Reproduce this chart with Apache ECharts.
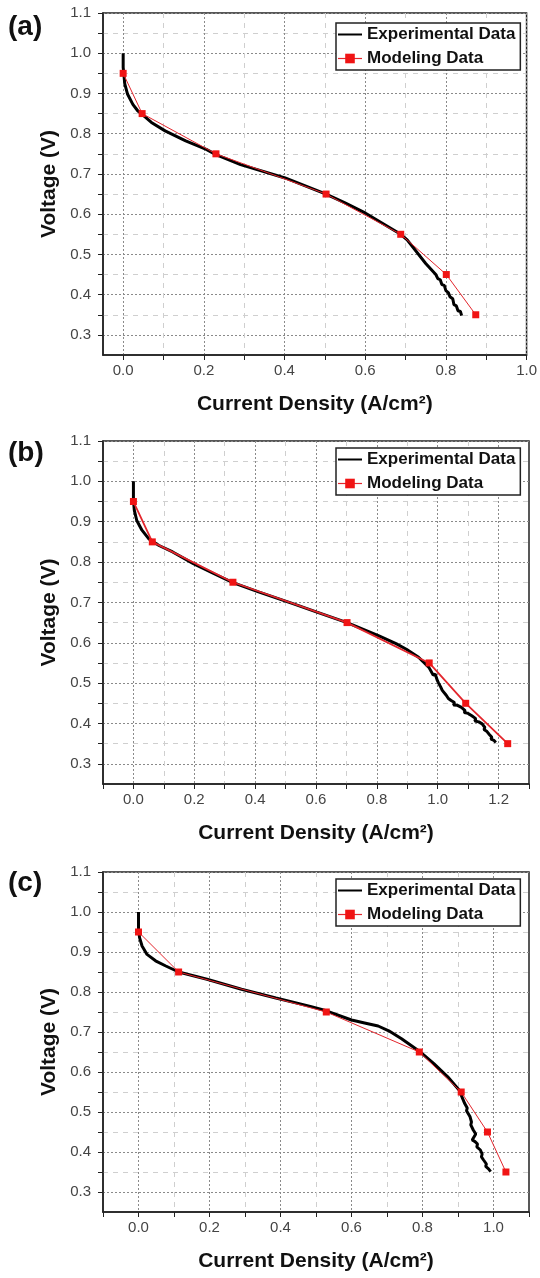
<!DOCTYPE html>
<html>
<head>
<meta charset="utf-8">
<script src="https://cdn.jsdelivr.net/npm/echarts@6/dist/echarts.min.js"></script>
<style>
  html, body { margin: 0; padding: 0; background: #fff; }
  #chart { width: 540px; height: 1278px; }
</style>
</head>
<body>
<div id="chart"></div>
<script>
// ---------- DATA ----------
const seriesNames = ['Experimental Data', 'Modeling Data'];
const panelLabels = ['(a)', '(b)', '(c)'];
const xTitle = 'Current Density (A/cm\u00B2)';
const yTitle = 'Voltage (V)';

// panel (a)
const expA = [[0,1.0],[0,0.965],[0.004,0.924],[0.011,0.898],[0.024,0.873],[0.036,0.857],[0.047,0.848],[0.07,0.828],[0.104,0.807],[0.155,0.782],[0.206,0.761],[0.23,0.748],[0.291,0.723],[0.4015,0.69],[0.503,0.65],[0.55,0.628],[0.601,0.6025],[0.688,0.55],[0.704,0.536],[0.75,0.4775],[0.775,0.45],[0.78,0.44],[0.786,0.437],[0.79,0.425],[0.796,0.423],[0.80,0.41],[0.806,0.405],[0.81,0.395],[0.817,0.39],[0.82,0.375],[0.826,0.372],[0.83,0.36],[0.836,0.358],[0.839,0.348]];
const modA = [[0,0.95],[0.047,0.85],[0.23,0.75],[0.503,0.65],[0.688,0.55],[0.801,0.45],[0.874,0.35]];

// panel (b)
const expB = [[0,1.0],[0,0.953],[0.003,0.928],[0.011,0.903],[0.028,0.879],[0.05,0.858],[0.084,0.841],[0.129,0.825],[0.197,0.796],[0.265,0.771],[0.327,0.749],[0.411,0.726],[0.524,0.697],[0.603,0.676],[0.702,0.65],[0.807,0.617],[0.863,0.598],[0.897,0.584],[0.937,0.564],[0.971,0.539],[0.985,0.52],[0.992,0.522],[0.999,0.506],[1.003,0.5],[1.01,0.49],[1.006,0.488],[1.015,0.482],[1.021,0.478],[1.028,0.47],[1.024,0.466],[1.035,0.462],[1.044,0.457],[1.055,0.452],[1.052,0.446],[1.065,0.445],[1.078,0.44],[1.09,0.432],[1.087,0.427],[1.1,0.425],[1.112,0.419],[1.125,0.412],[1.122,0.406],[1.135,0.404],[1.146,0.399],[1.155,0.39],[1.152,0.385],[1.162,0.38],[1.168,0.374],[1.178,0.366],[1.175,0.361],[1.185,0.358],[1.191,0.353]];
const modB = [[0,0.95],[0.062,0.85],[0.327,0.75],[0.702,0.65],[0.972,0.55],[1.092,0.45],[1.23,0.35]];

// panel (c)
const expC = [[0,1.0],[0,0.957],[0.003,0.936],[0.01,0.915],[0.024,0.894],[0.048,0.878],[0.077,0.865],[0.113,0.85],[0.193,0.832],[0.29,0.807],[0.387,0.785],[0.484,0.764],[0.529,0.753],[0.6,0.73],[0.64,0.722],[0.675,0.715],[0.705,0.703],[0.741,0.683],[0.791,0.652],[0.832,0.621],[0.871,0.588],[0.903,0.555],[0.919,0.521],[0.926,0.51],[0.924,0.503],[0.934,0.488],[0.938,0.475],[0.936,0.468],[0.943,0.455],[0.95,0.445],[0.94,0.43],[0.948,0.426],[0.955,0.42],[0.953,0.413],[0.963,0.405],[0.968,0.395],[0.966,0.388],[0.972,0.38],[0.98,0.37],[0.978,0.364],[0.986,0.358],[0.992,0.351]];
const modC = [[0,0.95],[0.113,0.85],[0.529,0.75],[0.791,0.65],[0.909,0.55],[0.983,0.45],[1.035,0.35]];

// axis ranges and ticks
const xRangeA = [-0.05, 1.0];
const xRangeB = [-0.1, 1.3];
const xRangeC = [-0.1, 1.1];
const yRange = [0.25, 1.1];

const xTicksA = [0,0.1,0.2,0.3,0.4,0.5,0.6,0.7,0.8,0.9,1.0];
const xMajorA = [0,0.2,0.4,0.6,0.8,1.0];
const xMinorA = [0.1,0.3,0.5,0.7,0.9];

const xTicksB = [-0.1,0,0.1,0.2,0.3,0.4,0.5,0.6,0.7,0.8,0.9,1.0,1.1,1.2,1.3];
const xMajorB = [0,0.2,0.4,0.6,0.8,1.0,1.2];
const xMinorB = [0.1,0.3,0.5,0.7,0.9,1.1];

const xTicksC = [-0.1,0,0.1,0.2,0.3,0.4,0.5,0.6,0.7,0.8,0.9,1.0,1.1];
const xMajorC = [0,0.2,0.4,0.6,0.8,1.0];
const xMinorC = [0.1,0.3,0.5,0.7,0.9];

const yTicks = [0.3,0.35,0.4,0.45,0.5,0.55,0.6,0.65,0.7,0.75,0.8,0.85,0.9,0.95,1.0,1.05,1.1];
const yMajor = [0.3,0.4,0.5,0.6,0.7,0.8,0.9,1.0,1.1];
const yMinor = [0.35,0.45,0.55,0.65,0.75,0.85,0.95,1.05];

// ---------- LAYOUT ----------
const FONT = '"Liberation Sans", Arial, sans-serif';
const panels = [
  { grid: {left:103, top:13, width:426, height:342}, xr: xRangeA, xt: xTicksA, xM: xMajorA, xm: xMinorA, exp: expA, mod: modA, redW: 1, legendTop: 23, labelY: 29 },
  { grid: {left:103, top:441, width:426, height:343}, xr: xRangeB, xt: xTicksB, xM: xMajorB, xm: xMinorB, exp: expB, mod: modB, redW: 1.8, legendTop: 448, labelY: 455 },
  { grid: {left:103, top:872, width:426, height:340}, xr: xRangeC, xt: xTicksC, xM: xMajorC, xm: xMinorC, exp: expC, mod: modC, redW: 1, legendTop: 879, labelY: 885 }
];

const grids = [], xAxes = [], yAxes = [], series = [], legends = [], graphics = [];
const axisColor = '#222';
const tickLabel = { fontSize: 15, color: '#444', fontFamily: FONT };
const titleStyle = { fontSize: 21, fontWeight: 'bold', color: '#111', fontFamily: FONT };

panels.forEach((p, i) => {
  grids.push(Object.assign({ show: true, borderColor: axisColor, borderWidth: 1.5, backgroundColor: 'transparent', containLabel: false }, p.grid));
  const xBase = xAxes.length;
  xAxes.push({
    gridIndex: i, type: 'value', min: p.xr[0], max: p.xr[1], position: 'bottom',
    axisLine: { show: true, onZero: false, lineStyle: { color: axisColor, width: 1.5 } },
    axisTick: { show: true, customValues: p.xt, length: 5, lineStyle: { color: axisColor, width: 1 } },
    axisLabel: Object.assign({ customValues: p.xM, formatter: v => v.toFixed(1), margin: 8 }, tickLabel),
    splitLine: { show: false },
    name: xTitle, nameLocation: 'middle', nameGap: 39, nameTextStyle: titleStyle
  });
  xAxes.push({
    gridIndex: i, type: 'value', min: p.xr[0], max: p.xr[1], position: 'bottom',
    axisLine: { show: false }, axisTick: { show: false, customValues: p.xM }, axisLabel: { show: false },
    splitLine: { show: true, lineStyle: { color: '#8a8a8a', width: 1, type: [2, 2] } }
  });
  xAxes.push({
    gridIndex: i, type: 'value', min: p.xr[0], max: p.xr[1], position: 'bottom',
    axisLine: { show: false }, axisTick: { show: false, customValues: p.xm }, axisLabel: { show: false },
    splitLine: { show: true, lineStyle: { color: '#cfcfcf', width: 1, type: [5, 5] } }
  });
  const yBase = yAxes.length;
  yAxes.push({
    gridIndex: i, type: 'value', min: yRange[0], max: yRange[1], position: 'left',
    axisLine: { show: true, onZero: false, lineStyle: { color: axisColor, width: 1.5 } },
    axisTick: { show: true, customValues: yTicks, length: 5, lineStyle: { color: axisColor, width: 1 } },
    axisLabel: Object.assign({ customValues: yMajor, formatter: v => v.toFixed(1), margin: 12 }, tickLabel),
    splitLine: { show: false },
    name: yTitle, nameLocation: 'middle', nameGap: 42, nameTextStyle: titleStyle
  });
  yAxes.push({
    gridIndex: i, type: 'value', min: yRange[0], max: yRange[1], position: 'left',
    axisLine: { show: false }, axisTick: { show: false, customValues: yMajor }, axisLabel: { show: false },
    splitLine: { show: true, lineStyle: { color: '#8a8a8a', width: 1, type: [2, 2] } }
  });
  yAxes.push({
    gridIndex: i, type: 'value', min: yRange[0], max: yRange[1], position: 'left',
    axisLine: { show: false }, axisTick: { show: false, customValues: yMinor }, axisLabel: { show: false },
    splitLine: { show: true, lineStyle: { color: '#cfcfcf', width: 1, type: [5, 5] } }
  });

  series.push({
    name: seriesNames[0], type: 'line', xAxisIndex: xBase, yAxisIndex: yBase,
    data: p.exp, showSymbol: false, symbol: 'none', smooth: false,
    lineStyle: { color: '#000', width: 3 }, itemStyle: { color: '#000' }, z: 3, silent: true, animation: false
  });
  series.push({
    name: seriesNames[1], type: 'line', xAxisIndex: xBase, yAxisIndex: yBase,
    data: p.mod, symbol: 'rect', symbolSize: 7, showSymbol: true,
    lineStyle: { color: '#e3262d', width: p.redW }, itemStyle: { color: '#f01414' }, z: 4, silent: true, animation: false
  });

  legends.push({
    data: [
      { name: seriesNames[0], itemStyle: { opacity: 0 }, lineStyle: { width: 2, color: '#000' } },
      { name: seriesNames[1], lineStyle: { width: 1.2 } }
    ],
    orient: 'vertical', left: 336, top: p.legendTop,
    itemWidth: 24, itemHeight: 12, itemGap: 5, padding: [2, 5, 2, 1],
    borderColor: axisColor, borderWidth: 1.5, backgroundColor: '#fff',
    textStyle: { fontSize: 17, fontWeight: 'bold', color: '#111', fontFamily: FONT, lineHeight: 19 },
    selectedMode: false
  });

  graphics.push({
    type: 'text', left: 8, top: p.labelY - 16,
    style: { text: panelLabels[i], fill: '#111', font: 'bold 28px ' + FONT }
  });
});

const chart = echarts.init(document.getElementById('chart'), null, { renderer: 'canvas' });
chart.setOption({
  animation: false,
  backgroundColor: '#fff',
  grid: grids,
  xAxis: xAxes,
  yAxis: yAxes,
  legend: legends,
  series: series,
  graphic: graphics
});
</script>
</body>
</html>
